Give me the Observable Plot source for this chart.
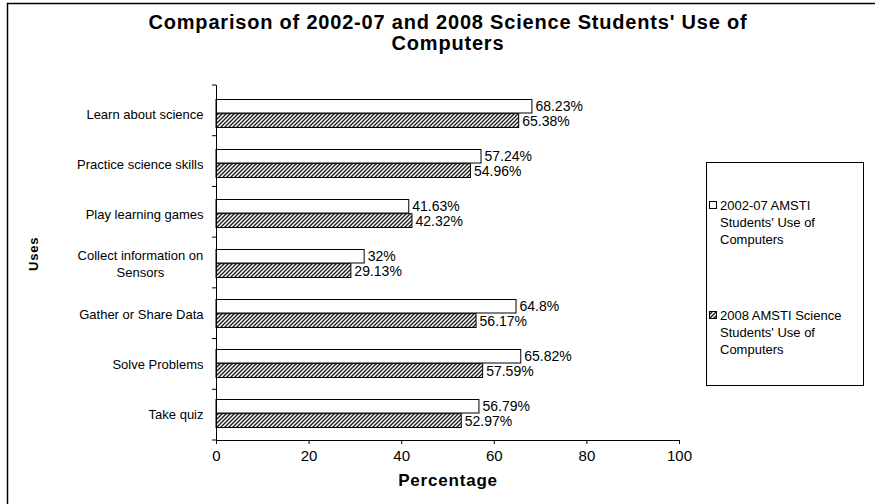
<!DOCTYPE html>
<html>
<head>
<meta charset="utf-8">
<script src="https://cdn.jsdelivr.net/npm/d3@7"></script>
<script src="https://cdn.jsdelivr.net/npm/@observablehq/plot@0.6"></script>
<style>
  html, body { margin: 0; padding: 0; background: white; overflow: hidden; }
  #chart svg { overflow: hidden; display: block; }
</style>
</head>
<body>
<div id="chart"></div>
<script>
const categories = [
  "Learn about science",
  "Practice science skills",
  "Play learning games",
  "Collect information on\nSensors",
  "Gather or Share Data",
  "Solve Problems",
  "Take quiz"
];
const series2002 = [68.23, 57.24, 41.63, 32, 64.8, 65.82, 56.79];
const series2008 = [65.38, 54.96, 42.32, 29.13, 56.17, 57.59, 52.97];
const seriesNames = [
  "2002-07 AMSTI\nStudents' Use of\nComputers",
  "2008 AMSTI Science\nStudents' Use of\nComputers"
];
const xTicks = [0, 20, 40, 60, 80, 100];
const titleText = "Comparison of 2002-07 and 2008 Science Students' Use of\nComputers";

const rows = categories.map((c, i) => ({cat: c, a: series2002[i], b: series2008[i]}));

const W = 875, H = 504;
const mL = 216, mR = 196, mT = 85, mB = 64;
const band = (H - mT - mB) / categories.length;
const FONT = "'Liberation Sans', Arial, sans-serif";

const chart = Plot.plot({
  width: W,
  height: H,
  marginLeft: mL,
  marginRight: mR,
  marginTop: mT,
  marginBottom: mB,
  style: {fontFamily: FONT, fontSize: "13px", color: "black", background: "white"},
  x: {domain: [0, 100], ticks: xTicks, label: null},
  y: {domain: categories, padding: 0, label: null},
  marks: [
    Plot.axisX({ticks: xTicks, tickSize: 4, tickPadding: 6, fontSize: 15, label: null}),
    Plot.axisY({tickSize: 0, tickPadding: 13, fontSize: 13, lineHeight: 1.3, label: null}),
    Plot.barX(rows, {x: "a", y: "cat", fill: "white", stroke: "black", strokeWidth: 1, insetTop: 11.5, insetBottom: 25}),
    Plot.barX(rows, {x: "b", y: "cat", fill: "url(#hatch)", stroke: "black", strokeWidth: 1, insetTop: 25.7, insetBottom: 10.5}),
    Plot.text(rows, {x: "a", y: "cat", text: d => d.a + "%", dx: 3, dy: -7, textAnchor: "start", fontSize: 14}),
    Plot.text(rows, {x: "b", y: "cat", text: d => d.b + "%", dx: 3, dy: 8, textAnchor: "start", fontSize: 14}),
    Plot.ruleX([0], {stroke: "black", strokeWidth: 1}),
    Plot.frame({anchor: "bottom", stroke: "black", strokeWidth: 1}),
    Plot.text(["Percentage"], {frameAnchor: "bottom", dy: 45, fontWeight: "bold", fontSize: 17}),
    Plot.text(["Uses"], {frameAnchor: "left", dx: -183, dy: 8, rotate: -90, fontWeight: "bold", fontSize: 13}),
    Plot.text([titleText], {frameAnchor: "top", dy: -71, lineAnchor: "top", fontWeight: "bold", fontSize: 20, lineHeight: 1.05})
  ]
});
document.getElementById("chart").appendChild(chart);

const svg = d3.select(chart);
// slightly wider bold lettering, as in the original
svg.selectAll("text").filter(function() { return d3.select(this.parentNode).attr("font-weight") === "bold"; })
  .attr("letter-spacing", "0.8px");

// hatch pattern
const defs = svg.insert("defs", ":first-child");
const pat = defs.append("pattern")
  .attr("id", "hatch").attr("patternUnits", "userSpaceOnUse")
  .attr("width", 4).attr("height", 4);
pat.append("rect").attr("width", 4).attr("height", 4).attr("fill", "white");
pat.append("path").attr("d", "M-1,1 l2,-2 M0,4 l4,-4 M3,5 l2,-2")
  .attr("stroke", "#1a1a1a").attr("stroke-width", 1.35);

// y-axis tick marks at band boundaries
const g = svg.append("g").attr("stroke", "black").attr("stroke-width", 1);
for (let i = 0; i <= categories.length; i++) {
  const yy = mT + i * band;
  g.append("line").attr("x1", mL - 4).attr("x2", mL).attr("y1", yy).attr("y2", yy);
}

// centre multi-line category labels (as in the original)
svg.selectAll("g[aria-label='y-axis tick label'] text").each(function() {
  const t = d3.select(this);
  if (this.querySelectorAll("tspan").length > 1) {
    const w = this.getBBox().width;
    t.attr("text-anchor", "middle");
    const tr = t.attr("transform") || "";
    t.attr("transform", tr + ` translate(${-w / 2},0)`);
  }
});

// legend
const lg = svg.append("g").attr("font-size", 13).attr("font-family", FONT).attr("text-anchor", "start");
lg.append("rect").attr("x", 706.5).attr("y", 162.5).attr("width", 157).attr("height", 223)
  .attr("fill", "white").attr("stroke", "black").attr("stroke-width", 1);
const legendY = [205, 315];
const legendFill = ["white", "url(#hatch)"];
seriesNames.forEach((name, i) => {
  lg.append("rect").attr("x", 709.5).attr("y", legendY[i] - 3.5).attr("width", 7).attr("height", 7)
    .attr("fill", legendFill[i]).attr("stroke", "black").attr("stroke-width", 1);
  const tx = lg.append("text").attr("x", 720).attr("y", legendY[i] + 4.5).attr("text-anchor", "start");
  name.split("\n").forEach((line, j) => {
    tx.append("tspan").attr("x", 720).attr("dy", j === 0 ? 0 : 17).text(line);
  });
});

// outer border
svg.append("rect").attr("x", 7.5).attr("y", 3.5).attr("width", 900).attr("height", 600)
  .attr("fill", "none").attr("stroke", "black").attr("stroke-width", 1.5);
</script>
</body>
</html>
